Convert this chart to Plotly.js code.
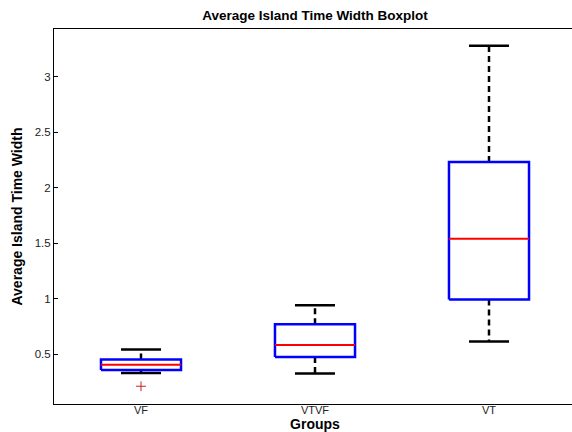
<!DOCTYPE html>
<html>
<head>
<meta charset="utf-8">
<script src="https://cdn.plot.ly/plotly-3.0.1.min.js"></script>
<style>
html,body{margin:0;padding:0;overflow:hidden;background:#fff;}
#chart{width:580px;height:432px;}
</style>
</head>
<body>
<div id="chart"></div>
<script>
// Data
const groups = ['VF', 'VTVF', 'VT'];
const lowerWhisker = [0.329, 0.326, 0.614];
const q1 = [0.356, 0.473, 0.992];
const medians = [0.405, 0.581, 1.540];
const q3 = [0.452, 0.770, 2.233];
const upperWhisker = [0.542, 0.941, 3.282];
const outlierGroups = ['VF'];
const outlierValues = [0.21];

const pos = groups.map((g, i) => i + 1);
const boxHalf = 0.23;
const capHalf = 0.115;

const bx = [], by = [], mx = [], my = [], wx = [], wy = [], cx = [], cy = [];
pos.forEach((p, i) => {
  bx.push(p - boxHalf, p + boxHalf, p + boxHalf, p - boxHalf, p - boxHalf, null);
  by.push(q1[i], q1[i], q3[i], q3[i], q1[i], null);
  mx.push(p - boxHalf, p + boxHalf, null);
  my.push(medians[i], medians[i], null);
  wx.push(p, p, null, p, p, null);
  wy.push(q3[i], upperWhisker[i], null, q1[i], lowerWhisker[i], null);
  cx.push(p - capHalf, p + capHalf, null, p - capHalf, p + capHalf, null);
  cy.push(upperWhisker[i], upperWhisker[i], null, lowerWhisker[i], lowerWhisker[i], null);
});
const ox = outlierGroups.map(g => groups.indexOf(g) + 1);

const traces = [
  {x: wx, y: wy, mode: 'lines', line: {color: '#000', width: 2.5, dash: '6px,4px'}, hoverinfo: 'skip'},
  {x: cx, y: cy, mode: 'lines', line: {color: '#000', width: 2.5}, hoverinfo: 'skip'},
  {x: bx, y: by, mode: 'lines', line: {color: '#0000ff', width: 2.5}, hoverinfo: 'skip'},
  {x: mx, y: my, mode: 'lines', line: {color: '#ff0000', width: 2}, hoverinfo: 'skip'},
  {x: ox, y: outlierValues, mode: 'markers', marker: {symbol: 'cross-thin', size: 7, color: '#cc2020', line: {color: '#cc2020', width: 1}}, hoverinfo: 'skip'}
];

const fontFam = 'Liberation Sans, Arial, Helvetica, sans-serif';
const layout = {
  width: 580, height: 432,
  margin: {l: 54, r: 4, t: 29, b: 28},
  paper_bgcolor: '#fff', plot_bgcolor: '#fff',
  showlegend: false,
  font: {family: fontFam, color: '#222', size: 11.5},
  title: {text: '<b>Average Island Time Width Boxplot</b>', font: {family: fontFam, size: 13.5, color: '#000'},
          x: 315/580, xref: 'container', xanchor: 'center', y: 1 - 15/432, yref: 'container', yanchor: 'middle'},
  xaxis: {
    range: [0.5, 3.5], tickvals: pos, ticktext: groups, ticks: '',
    showline: true, mirror: true, linecolor: '#000', linewidth: 1,
    showgrid: false, zeroline: false, ticklabelstandoff: -4,
    tickfont: {family: fontFam, size: 11, color: '#222'},
    title: {text: '<b>Groups</b>', font: {family: fontFam, size: 14, color: '#000'}, standoff: 2}
  },
  yaxis: {
    range: [0.05, 3.432], tickvals: [0.5, 1, 1.5, 2, 2.5, 3], ticktext: ['0.5', '1', '1.5', '2', '2.5', '3'],
    ticks: 'inside', ticklen: 4, tickcolor: '#000', mirror: 'ticks',
    showline: true, linecolor: '#000', linewidth: 1,
    showgrid: false, zeroline: false,
    tickfont: {family: fontFam, size: 11.5, color: '#222'},
    title: {text: '<b>Average Island Time Width</b>', font: {family: fontFam, size: 14, color: '#000'}, standoff: 8}
  }
};

Plotly.newPlot('chart', traces, layout, {staticPlot: true, displayModeBar: false});
</script>
</body>
</html>
